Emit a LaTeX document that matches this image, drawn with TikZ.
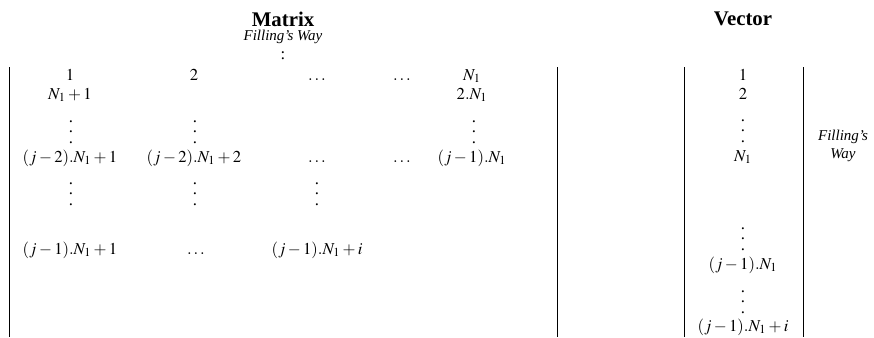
\documentclass[tikz,border=0pt]{standalone}
\usepackage{mathptmx}
\usepackage{fontspec}
\setmainfont{Liberation Serif}
\tikzstyle{cell}=[inner sep=1pt,anchor=base]
\tikzstyle{dts}=[inner sep=0pt]
\tikzstyle{head}=[font=\fontsize{12.5}{15}\selectfont\bfseries]
\tikzstyle{way}=[font=\small\itshape,align=center,inner sep=1pt]
\tikzstyle{bar}=[line width=0.5pt]
\newcommand{\coldots}{\vbox{\baselineskip=6.2pt\lineskiplimit=0pt\hbox{.}\hbox{.}\hbox{.}}}

\begin{document}
\begin{tikzpicture}[x=0.6pt,y=-0.6pt]
\useasboundingbox (0,0) rectangle (874,337);
% matrix side
\node[head] (mat) at (283,19) {Matrix};
\node[way] (mway) at (283,37) {Filling's Way};
\node[dts] (mcol) at (283,56) {:};
\coordinate (mtl) at (9,67);
\coordinate (mbl) at (9,337);
\coordinate (mtr) at (557,67);
\coordinate (mbr) at (557,337);
\draw[bar] (mtl) -- (mbl);
\draw[bar] (mtr) -- (mbr);
\node[cell] (a11) at (70,80) {$1$};
\node[cell] (a12) at (194,80) {$2$};
\node[cell] (a13) at (317,80) {$\dots$};
\node[cell] (a14) at (402,80) {$\dots$};
\node[cell] (a15) at (472,80) {$N_1$};
\node[cell] (a21) at (70,99) {$N_1+1$};
\node[cell] (a25) at (472,99) {$2.N_1$};
\node[dts] (d1) at (71,132) {\coldots};
\node[dts] (d2) at (195,132) {\coldots};
\node[dts] (d5) at (474,132) {\coldots};
\node[cell] (a31) at (70,162) {$(j-2).N_1+1$};
\node[cell] (a32) at (194,162) {$(j-2).N_1+2$};
\node[cell] (a33) at (317,162) {$\dots$};
\node[cell] (a34) at (402,162) {$\dots$};
\node[cell] (a35) at (472,162) {$(j-1).N_1$};
\node[dts] (e1) at (71,194) {\coldots};
\node[dts] (e2) at (195,194) {\coldots};
\node[dts] (e3) at (317,194) {\coldots};
\node[cell] (a41) at (70,254) {$(j-1).N_1+1$};
\node[cell] (a42) at (196,254) {$\dots$};
\node[cell] (a43) at (317,254) {$(j-1).N_1+i$};
% vector side
\node[head] (vec) at (743,19) {Vector};
\coordinate (vtl) at (684,67);
\coordinate (vbl) at (684,337);
\coordinate (vtr) at (803,67);
\coordinate (vbr) at (803,337);
\draw[bar] (vtl) -- (vbl);
\draw[bar] (vtr) -- (vbr);
\node[cell] (v1) at (743,80) {$1$};
\node[cell] (v2) at (743,99) {$2$};
\node[dts] (f1) at (743,131) {\coldots};
\node[cell] (v3) at (743,161) {$N_1$};
\node[dts] (f2) at (743,239) {\coldots};
\node[cell] (v4) at (743,269) {$(j-1).N_1$};
\node[dts] (f3) at (743,302) {\coldots};
\node[cell] (v5) at (743,331) {$(j-1).N_1+i$};
\node[way] (vway) at (843,146) {Filling's\\Way};
\end{tikzpicture}
\end{document}
